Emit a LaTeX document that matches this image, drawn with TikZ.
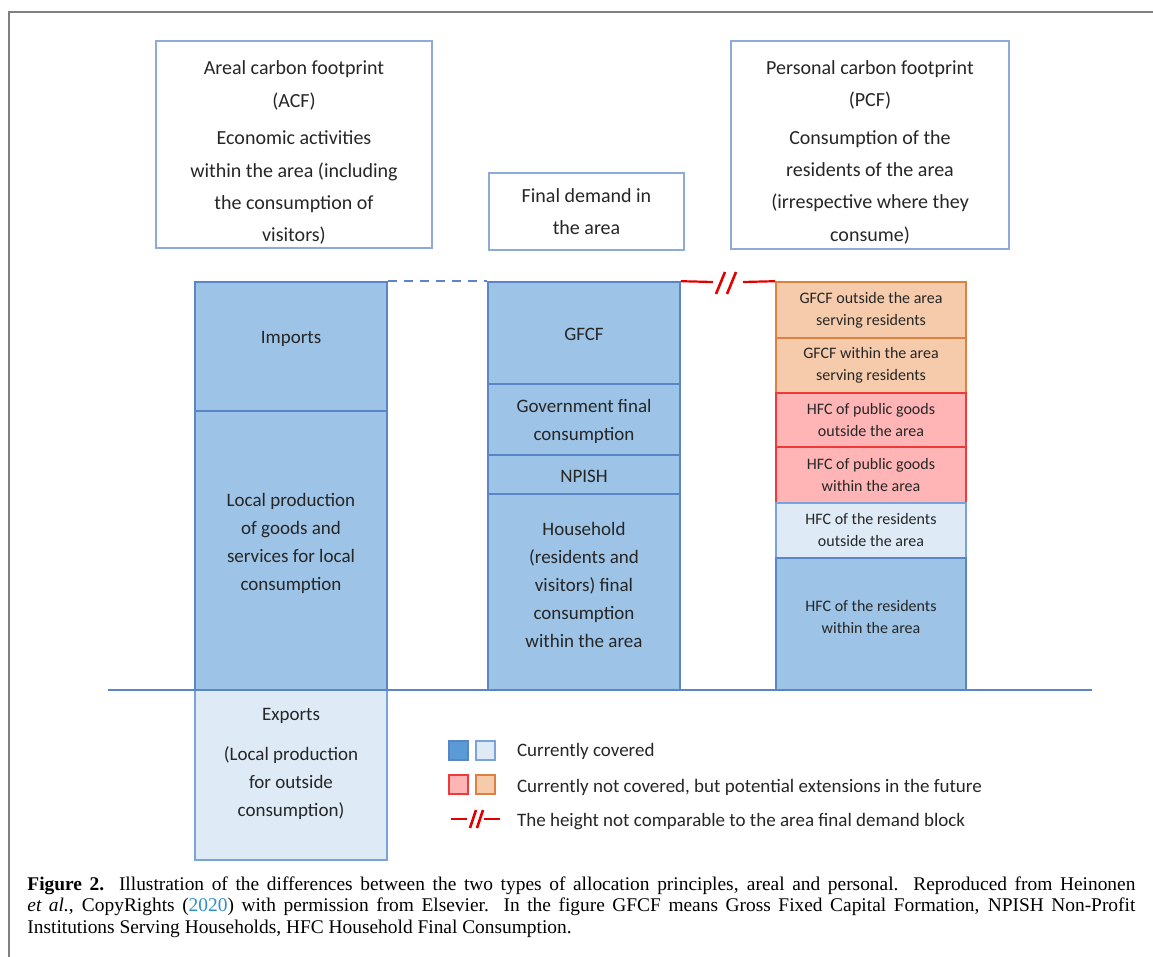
\documentclass[tikz,border=0pt]{standalone}
\usepackage{fontspec}
\setmainfont{Carlito}
\newfontfamily\capfont{Liberation Serif}
\usepackage{tikz}
\usetikzlibrary{fit}
\definecolor{txt}{HTML}{262626}
\definecolor{dkfill}{HTML}{9DC3E6}
\definecolor{dkline}{HTML}{5A86C8}
\definecolor{ltfill}{HTML}{DEEBF7}
\definecolor{ltline}{HTML}{7BA3DB}
\definecolor{rdfill}{HTML}{FFB5B5}
\definecolor{rdline}{HTML}{F03A3A}
\definecolor{orfill}{HTML}{F6CBAB}
\definecolor{orline}{HTML}{DD8140}
\definecolor{legdk}{HTML}{5B9BD5}
\definecolor{topline}{HTML}{8EAADB}
\definecolor{linkblue}{HTML}{2A8FD0}

\tikzset{
  blk/.style = {draw, inner sep = 0pt, line width = .8pt},
  blktxt/.style = {align = center, text = txt, inner sep = 0pt, font = \fontsize{9.5}{14}\selectfont},
  smalltxt/.style = {blktxt, font = \fontsize{8}{11}\selectfont},
  dkbox/.style = {blk, fill = dkfill, draw = dkline},
  ltbox/.style = {blk, fill = ltfill, draw = ltline},
  rdbox/.style = {blk, fill = rdfill, draw = rdline},
  orbox/.style = {blk, fill = orfill, draw = orline},
  topbox/.style = {draw = topline, line width = .7pt, inner sep = 0pt},
  toptxt/.style = {align = center, text = txt, inner sep = 0pt, font = \fontsize{10}{16.2}\selectfont},
  legsq/.style = {draw, line width = .7pt, minimum size = 9.5pt, inner sep = 0pt},
  legtxt/.style = {anchor = west, text = txt, font = \fontsize{9.5}{12}\selectfont},
  redln/.style = {draw = red!90!black, line width = 1.1pt}
}

\begin{document}
\begin{tikzpicture}[x = .5pt, y = -.5pt]
  \useasboundingbox (0, 0) rectangle (1153, 957);
  \draw[gray, line width = 1pt] (1153, 12) -- (9, 12) -- (9, 957);

  % headings
  \node[topbox, fit = {(156, 41) (432, 248)},
        label = {[toptxt, yshift = -4.2pt]center:{Areal carbon footprint\\(ACF)\\[2.5pt]Economic activities\\within the area (including\\the consumption of\\visitors)}}] (acf) {};
  \node[topbox, fit = {(489, 173) (684, 250)},
        label = {[toptxt]center:{Final demand in\\the area}}] (fd) {};
  \node[topbox, fit = {(731, 41) (1009, 249)},
        label = {[toptxt, yshift = -3.6pt]center:{Personal carbon footprint\\(PCF)\\[2.5pt]Consumption of the\\residents of the area\\(irrespective where they\\consume)}}] (pcf) {};

  % areal bar
  \node[dkbox, fit = {(195, 282) (387, 411)},
        label = {[blktxt, yshift = 4pt]center:Imports}] (imp) {};
  \node[dkbox, fit = {(195, 411) (387, 690)},
        label = {[blktxt, yshift = 3.5pt]center:{Local production\\of goods and\\services for local\\consumption}}] (loc) {};
  \node[ltbox, fit = {(195, 690) (387, 860)}] (exp) {};
  \node[blktxt, anchor = north] (exptxt) at (291, 708) {Exports\\[6pt](Local production\\for outside\\consumption)};

  % final demand bar
  \node[dkbox, fit = {(488, 282) (680, 384)}, label = {[blktxt, yshift = -.8pt]center:GFCF}] (gfcf) {};
  \node[dkbox, fit = {(488, 384) (680, 455)}, label = {[blktxt, yshift = -.8pt]center:{Government final\\consumption}}] (gov) {};
  \node[dkbox, fit = {(488, 455) (680, 494)}, label = {[blktxt, yshift = -.8pt]center:NPISH}] (npish) {};
  \node[dkbox, fit = {(488, 494) (680, 690)},
        label = {[blktxt, yshift = 3.5pt]center:{Household\\(residents and\\visitors) final\\consumption\\within the area}}] (hh) {};

  % personal bar
  \foreach \n/\ya/\yb/\s/\dy/\t in {
      r1/282/338/orbox/0/{GFCF outside the area\\serving residents},
      r2/338/393/orbox/0/{GFCF within the area\\serving residents},
      r3/393/447/rdbox/0/{HFC of public goods\\outside the area},
      r4/447/503/rdbox/0/{HFC of public goods\\within the area},
      r5/503/558/ltbox/0/{HFC of the residents\\outside the area},
      r6/558/690/dkbox/3.5/{HFC of the residents\\within the area}}{
    \node[\s, fit = {(776, \ya) (966, \yb)}, label = {[smalltxt, yshift = \dy pt]center:{\t}}] (\n) {};
  }

  \draw[dkline, line width = .8pt] (108, 690) -- (1092, 690);

  % connectors
  \draw[dkline, line width = 1pt, dash pattern = on 4.5pt off 3.5pt] (imp.north east) -- (gfcf.north west);
  \coordinate (brk1) at (713, 282);
  \coordinate (brk2) at (743, 282);
  \draw[redln] (gfcf.north east) -- (brk1);
  \draw[redln] (brk2) -- (r1.north west);
  \draw[redln, line width = 1.3pt] (716, 294) -- (725, 272) (727, 294) -- (736, 272);

  % legend
  \node[legsq, draw = dkline, fill = legdk] (k1) at (458.5, 750.5) {};
  \node[legsq, draw = ltline, fill = ltfill] (k2) at (485.5, 750.5) {};
  \node[legsq, draw = rdline, fill = rdfill] (k3) at (458.5, 784.5) {};
  \node[legsq, draw = orline, fill = orfill] (k4) at (485.5, 784.5) {};
  \draw[redln] (451, 819) -- (467, 819) (484, 819) -- (500, 819);
  \draw[redln, line width = 1.3pt] (470, 828) -- (476, 810) (477, 828) -- (483, 810);
  \node[legtxt] (l1) at (510, 751) {Currently covered};
  \node[legtxt] (l2) at (510, 787) {Currently not covered, but potential extensions in the future};
  \node[legtxt] (l3) at (510, 822) {The height not comparable to the area final demand block};

  % caption
  \node[anchor = north west, inner sep = 0pt, text width = 554pt, align = justify,
        font = \capfont\fontsize{9.7}{10.8}\selectfont] (cap) at (27, 876)
    {\textbf{Figure 2.} Illustration of the differences between the two types of allocation principles, areal and personal. Reproduced from Heinonen\linebreak \emph{et al.}, CopyRights (\textcolor{linkblue}{2020}) with permission from Elsevier. In the figure GFCF means Gross Fixed Capital Formation, NPISH Non-Profit\linebreak Institutions Serving Households, HFC Household Final Consumption.};
\end{tikzpicture}
\end{document}
